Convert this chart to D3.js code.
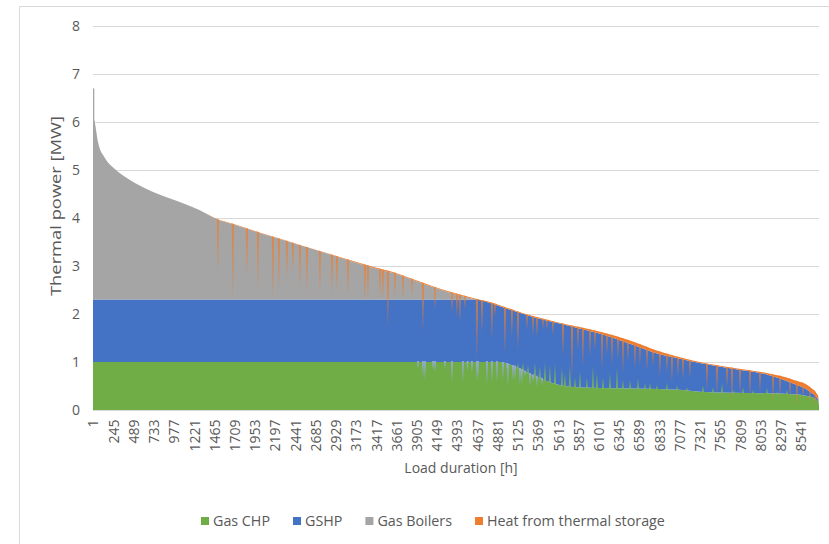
<!DOCTYPE html>
<html>
<head>
<meta charset="utf-8">
<script src="https://cdn.jsdelivr.net/npm/d3@7"></script>
<style>
  body { margin: 0; background: #fff; }
  text { font-family: "Open Sans", sans-serif; fill: #595959; }
</style>
</head>
<body>
<svg id="chart" width="829" height="544"></svg>
<script>
// Load duration curve, sampled at hours sorted by descending heat demand
const hours = [1, 2, 12, 24, 64, 145, 265, 386, 507, 712, 905, 1110, 1290, 1500, 1690,
  2100, 2500, 2900, 3300, 3700, 3950, 4100, 4300, 4510, 4620, 4750, 4910, 5100, 5310, 5630,
  5870, 6120, 6480, 6840, 7080, 7320, 7720, 8130, 8450, 8650, 8748, 8760];

// Heat supplied by each source [MW]
const gasCHP = [1, 1, 1, 1, 1, 1, 1, 1, 1, 1, 1, 1, 1, 1, 1,
  1, 1, 1, 1, 1, 1, 1, 1, 1, 1, 1, 1, 0.90, 0.72, 0.52,
  0.47, 0.46, 0.45, 0.44, 0.42, 0.38, 0.36, 0.35, 0.33, 0.28, 0.18, 0.10];
const gshp = [1.3, 1.3, 1.3, 1.3, 1.3, 1.3, 1.3, 1.3, 1.3, 1.3, 1.3, 1.3, 1.3, 1.3, 1.3,
  1.3, 1.3, 1.3, 1.3, 1.3, 1.3, 1.3, 1.3, 1.3, 1.3, 1.25, 1.16, 1.15, 1.22, 1.28,
  1.23, 1.13, 0.93, 0.72, 0.65, 0.60, 0.50, 0.39, 0.22, 0.10, 0.04, 0.02];
const gasBoilers = [4.40, 3.89, 3.78, 3.68, 3.26, 2.95, 2.72, 2.56, 2.43, 2.25, 2.12, 1.99, 1.86, 1.67, 1.57,
  1.34, 1.13, 0.92, 0.70, 0.51, 0.35, 0.26, 0.15, 0.05, 0, 0, 0, 0, 0, 0,
  0, 0, 0, 0, 0, 0, 0, 0, 0, 0, 0, 0];
const storageHeat = [0, 0, 0, 0, 0, 0, 0, 0, 0, 0, 0, 0, 0, 0.01, 0.01,
  0.01, 0.01, 0.01, 0.02, 0.02, 0.02, 0.02, 0.02, 0.02, 0.02, 0.02, 0.02, 0.02, 0.02, 0.02,
  0.03, 0.04, 0.07, 0.06, 0.03, 0.02, 0.02, 0.03, 0.08, 0.10, 0.08, 0.03];

// Single hours where storage discharge takes over: [hour, level the other sources drop to]
const storageSpikes = [
  [1508, 2.90], [1689, 2.33], [1858, 2.77], [1991, 2.55], [2172, 2.29], [2244, 2.50],
  [2341, 2.75], [2413, 2.90], [2498, 2.56], [2582, 2.44], [2739, 2.44], [2884, 2.44],
  [2944, 2.50], [3077, 2.40], [3282, 2.25], [3318, 2.33], [3463, 2.35], [3499, 2.29],
  [3559, 1.70], [3644, 2.35], [3740, 2.30], [3849, 2.40], [3982, 1.60], [4127, 2.08],
  [4332, 2.02], [4392, 1.95], [4428, 1.81], [4489, 2.10], [4633, 1.04], [4694, 1.60],
  [4814, 1.46], [4851, 1.95], [4971, 1.15], [5055, 1.52], [5128, 1.25], [5237, 1.67],
  [5309, 1.55], [5357, 1.52], [5430, 1.67], [5478, 1.65], [5550, 1.55], [5671, 1.10],
  [5780, 0.66], [5852, 1.25], [5912, 0.90], [5997, 1.10], [6057, 1.25], [6142, 0.83],
  [6202, 1.15], [6262, 0.95], [6335, 1.05], [6395, 0.77], [6455, 1.00], [6540, 0.85],
  [6600, 0.92], [6685, 0.80], [6757, 0.90], [6841, 0.69], [6926, 0.78], [6986, 0.56],
  [7059, 0.70], [7119, 0.62], [7203, 0.66], [7408, 0.42], [7529, 0.32], [7650, 0.46],
  [7710, 0.17], [7807, 0.31], [7927, 0.25], [8048, 0.35], [8205, 0.15], [8289, 0.28],
  [8410, 0.21], [8494, 0.06], [8567, 0.25], [8651, 0.15], [8712, 0.10]
];

// Hours where CHP output falls below its usual level: [hour, CHP output]
const chpDips = [
  [3922, 0.85], [3982, 0.69], [4006, 0.62], [4103, 0.83], [4127, 0.78], [4247, 0.85],
  [4332, 0.58], [4464, 0.56], [4520, 0.83], [4573, 0.78], [4633, 0.63], [4645, 0.62],
  [4754, 0.52], [4814, 0.56], [4875, 0.56], [4947, 0.62], [4995, 0.83], [5007, 0.48],
  [5068, 0.60], [5092, 0.63], [5152, 0.52], [5176, 0.52], [5213, 0.70], [5273, 0.48],
  [5309, 0.58], [5357, 0.48], [5418, 0.52]
];

// Hours where CHP output rises above its usual level: [hour, CHP output]
const chpPeaks = [
  [5128, 0.98], [5189, 1.00], [5249, 0.95], [5333, 1.00], [5393, 0.92], [5454, 1.00],
  [5514, 0.95], [5575, 0.98], [5659, 0.90], [5695, 0.77], [5755, 0.94], [5816, 0.69],
  [5876, 0.83], [5960, 0.67], [6033, 0.94], [6081, 0.79], [6154, 0.69], [6238, 0.77],
  [6323, 0.88], [6395, 0.63], [6480, 0.63], [6576, 0.67], [6660, 0.56], [6721, 0.58],
  [6805, 0.52], [6926, 0.56], [7047, 0.52], [7167, 0.48], [7360, 0.52], [7481, 0.48],
  [7590, 0.56], [7722, 0.42], [7843, 0.48], [7964, 0.42], [8132, 0.46], [8253, 0.38],
  [8374, 0.42], [8531, 0.35], [8651, 0.31]
];

const hourTicks = [1, 245, 489, 733, 977, 1221, 1465, 1709, 1953, 2197, 2441, 2685, 2929,
  3173, 3417, 3661, 3905, 4149, 4393, 4637, 4881, 5125, 5369, 5613, 5857, 6101, 6345,
  6589, 6833, 7077, 7321, 7565, 7809, 8053, 8297, 8541];
const powerTicks = [0, 1, 2, 3, 4, 5, 6, 7, 8];

const seriesNames = ["Gas CHP", "GSHP", "Gas Boilers", "Heat from thermal storage"];
const seriesColors = ["#70ad47", "#4472c4", "#a5a5a5", "#ed7d31"];

const svg = d3.select("#chart");

// Chart frame
svg.append("path")
  .attr("d", "M19.5,544 V6.5 H829")
  .attr("fill", "none").attr("stroke", "#d9d9d9");

const x = d3.scaleLinear().domain([1, 8760]).range([93, 819]);
const y = d3.scaleLinear().domain([0, 8]).range([410, 26]);

// Gridlines
svg.append("g").selectAll("line").data(powerTicks).join("line")
  .attr("x1", 93).attr("x2", 819)
  .attr("y1", d => Math.round(y(d)) + 0.5).attr("y2", d => Math.round(y(d)) + 0.5)
  .attr("stroke", "#d9d9d9").attr("stroke-width", 1);

// Stacked areas
const rows = hours.map((h, i) => ({
  hour: h, chp: gasCHP[i], gshp: gshp[i], boilers: gasBoilers[i], storage: storageHeat[i]
}));
const keys = ["chp", "gshp", "boilers", "storage"];
const stacked = d3.stack().keys(keys)(rows);

const area = d3.area()
  .x(d => x(d.data.hour))
  .y0(d => y(d[0]))
  .y1(d => y(d[1]))
  .curve(d3.curveMonotoneX);

const plot = svg.append("g");
plot.selectAll("path.layer").data(stacked).join("path")
  .attr("class", "layer")
  .attr("d", area)
  .attr("fill", (d, i) => seriesColors[i]);

// The single peak hour, one pixel wide
plot.append("rect")
  .attr("x", x(hours[0]))
  .attr("width", 1.3)
  .attr("y", y(stacked[3][0][1]))
  .attr("height", y(stacked[1][0][1]) - y(stacked[3][0][1]))
  .attr("fill", seriesColors[2]);

// Clip shape = whole stacked profile
const totals = stacked[3].map(d => d[1]);
const outline = d3.area()
  .x((d, i) => x(hours[i]))
  .y0(y(0))
  .y1(d => y(d))
  .curve(d3.curveMonotoneX);
svg.append("defs").append("clipPath").attr("id", "profileClip")
  .append("path").attr("d", outline(totals));

const topAt = d3.scaleLinear().domain(hours).range(totals);
const chpAt = d3.scaleLinear().domain(hours).range(gasCHP);
const spike = d3.line();

// CHP peaks (green rising into the GSHP band)
plot.append("g").selectAll("path").data(chpPeaks).join("path")
  .attr("d", ([h, v]) => {
    const cx = x(h), yb = y(chpAt(h)) + 1;
    return spike([[cx - 1.1, yb], [cx + 1.1, yb], [cx, y(v)]]) + "Z";
  })
  .attr("fill", "#7db35a").attr("opacity", 0.85);

// CHP dips (GSHP covering the gap)
plot.append("g").selectAll("path").data(chpDips).join("path")
  .attr("d", ([h, v]) => {
    const cx = x(h), yt = y(chpAt(h)) - 1;
    return spike([[cx - 1.1, yt], [cx + 1.1, yt], [cx, y(v)]]) + "Z";
  })
  .attr("fill", "#93abcf").attr("opacity", 0.9);

// Storage discharge spikes
plot.append("g").attr("clip-path", "url(#profileClip)")
  .selectAll("path").data(storageSpikes).join("path")
  .attr("d", ([h, v]) => {
    const cx = x(h), yt = y(topAt(h)) - 3;
    return spike([[cx - 1.2, yt], [cx + 1.2, yt], [cx, y(v)]]) + "Z";
  })
  .attr("fill", "#ed7d31").attr("opacity", 0.7);

// Y axis
const yAxis = svg.append("g").attr("transform", "translate(80,0)")
  .call(d3.axisLeft(y).tickValues(powerTicks).tickSize(0).tickPadding(0));
yAxis.select(".domain").remove();
yAxis.selectAll("text").style("font-size", "14px").attr("fill", "#595959")
  .style("font-family", "'Open Sans', sans-serif");

// X axis (category labels, rotated)
const xAxis = svg.append("g").attr("transform", "translate(0,410.5)")
  .call(d3.axisBottom(x).tickValues(hourTicks).tickSize(0).tickFormat(d3.format("d")));
xAxis.select(".domain").attr("stroke", "#d9d9d9").attr("d", "M93,0H819");
xAxis.selectAll("text")
  .style("font-size", "14px").attr("fill", "#595959")
  .style("font-family", "'Open Sans', sans-serif")
  .attr("text-anchor", "end")
  .attr("transform", "rotate(-90)")
  .attr("x", -9).attr("y", 0).attr("dy", "0.35em");

// Axis titles
svg.append("text")
  .attr("transform", "translate(61,206) rotate(-90)")
  .attr("text-anchor", "middle")
  .attr("textLength", 180)
  .attr("lengthAdjust", "spacingAndGlyphs")
  .style("font-size", "15px")
  .text("Thermal power [MW]");
svg.append("text")
  .attr("x", 461).attr("y", 473)
  .attr("text-anchor", "middle")
  .style("font-size", "14px")
  .text("Load duration [h]");

// Legend
const legend = svg.append("g");
let lx = 201;
seriesNames.forEach((name, i) => {
  legend.append("rect")
    .attr("x", lx).attr("y", 517).attr("width", 8).attr("height", 8)
    .attr("fill", seriesColors[i]);
  const t = legend.append("text")
    .attr("x", lx + 12).attr("y", 526)
    .style("font-size", "14.3px")
    .text(name);
  lx += 12 + t.node().getComputedTextLength() + 23;
});
</script>
</body>
</html>
